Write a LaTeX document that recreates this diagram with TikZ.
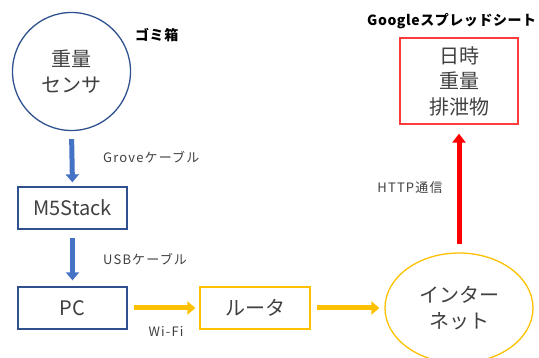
\documentclass[tikz,border=0pt]{standalone}
\usepackage{fontspec}
\setmainfont{Noto Sans CJK JP}
\newfontfamily\lblfont[LetterSpace=9]{Noto Sans CJK JP}
\newfontfamily\boldfont[LetterSpace=4]{Noto Sans CJK JP}
\usetikzlibrary{shapes.geometric,arrows.meta}
\definecolor{bluebd}{HTML}{2F528F}
\definecolor{bluear}{HTML}{4472C4}
\definecolor{yel}{HTML}{FFC000}
\definecolor{txt}{HTML}{404040}
\definecolor{redbd}{HTML}{FF3B3B}
\definecolor{redar}{HTML}{FF0000}
\begin{document}
\begin{tikzpicture}[x=1pt,y=-1pt,
  bigtext/.style={text=txt,align=center,font=\fontsize{20}{25.5}\selectfont},
  bluebox/.style={bigtext,draw=bluebd,line width=1.3pt,rectangle,minimum width=109pt,minimum height=42pt,inner sep=0pt},
  yelbox/.style={bigtext,draw=yel,line width=1.3pt,rectangle,minimum width=110pt,minimum height=42pt,inner sep=0pt},
  lbl/.style={text=txt,font=\lblfont\fontsize{13}{15}\selectfont,inner sep=0pt},
  bold/.style={text=black,font=\boldfont\fontsize{14}{16}\selectfont\bfseries,inner sep=0pt},
  bluearrow/.style={draw=bluear,line width=5pt,-{Triangle[width=13pt,length=8pt]}},
  yelarrow/.style={draw=yel,line width=5pt,-{Triangle[width=13pt,length=8pt]}},
  redarrow/.style={draw=redar,line width=5pt,-{Triangle[width=13pt,length=9pt]}}
]
\useasboundingbox (0,0) rectangle (539,358);
\node[bigtext,circle,draw=bluebd,line width=1.3pt,minimum size=118pt,inner sep=0pt] (sensor) at (71.5,71.5) {重量\\センサ};
\node[bluebox] (m5) at (72.5,208) {M5Stack};
\node[bluebox] (pc) at (72.5,308) {PC};
\node[yelbox] (router) at (255,308) {ルータ};
\node[bigtext,ellipse,draw=yel,line width=1.3pt,minimum width=148pt,minimum height=110pt,inner sep=0pt] (net) at (459,308) {インター\\ネット};
\node[bigtext,draw=redbd,line width=1.3pt,rectangle,minimum width=118pt,minimum height=86pt,inner sep=0pt] (sheet) at (459,81) {日時\\重量\\排泄物};

\node[bold,anchor=west] (gomi) at (135,35) {ゴミ箱};
\node[bold,anchor=west] (gs) at (367,21) {Googleスプレッドシート};
\node[lbl,anchor=west] (grove) at (103,157) {Groveケーブル};
\node[lbl,anchor=west] (usb) at (103,259) {USBケーブル};
\node[lbl] (wifi) at (166,331) {Wi-Fi};
\node[lbl] (http) at (410,188) {HTTP通信};

\draw[bluearrow,shorten <=8pt,shorten >=4pt] (sensor.south) -- (m5.north);
\draw[bluearrow,shorten <=8pt,shorten >=6pt] (m5.south) -- (pc.north);
\draw[yelarrow,shorten <=6pt,shorten >=4pt] (pc.east) -- (router.west);
\draw[yelarrow,shorten <=6pt,shorten >=5pt] (router.east) -- (net.west);
\draw[redarrow,shorten <=8pt,shorten >=9pt] (net.north) -- (sheet.south);
\end{tikzpicture}
\end{document}
